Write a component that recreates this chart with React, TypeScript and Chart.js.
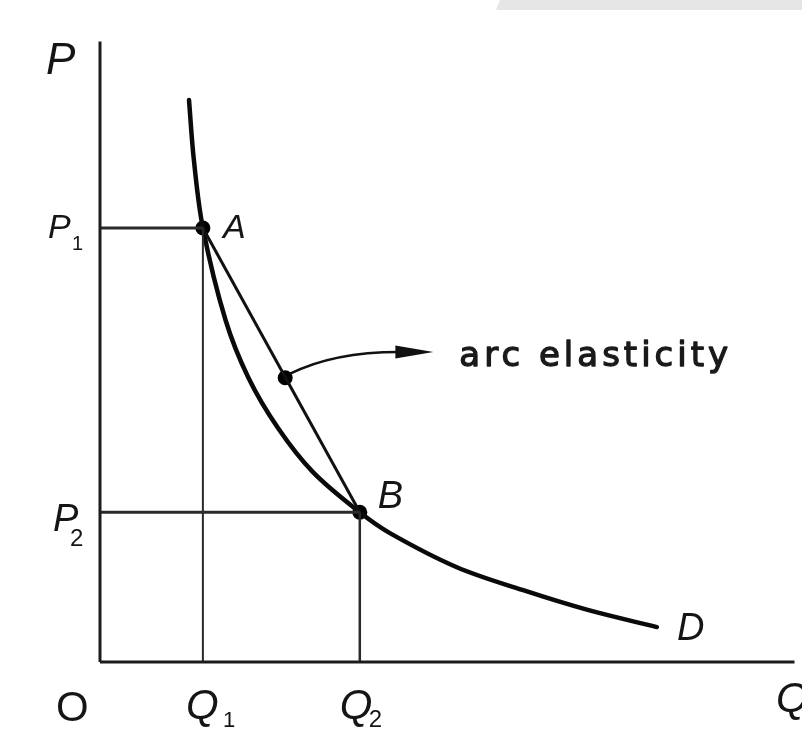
import React, { useEffect, useRef } from "react";
import { Chart, registerables } from "chart.js";

Chart.register(...registerables);

// Demand curve D, read as quantity / price pairs
const CURVE_Q = [3.46, 3.65, 4.0, 4.88, 5.77, 6.92, 8.27, 10.1, 11.27, 13.85, 16.42, 18.96, 21.65];
const CURVE_P = [25.9, 23.13, 20.0, 15.76, 13.1, 10.78, 8.76, 6.9, 5.94, 4.38, 3.32, 2.4, 1.61];

// Points A and B on the curve
const POINT_A = { q: 4.0, p: 20.0 };
const POINT_B = { q: 10.1, p: 6.9 };

// Point on chord AB that the arc-elasticity arrow starts from
const CHORD_MID = { q: 7.2, p: 13.1 };
// Tip of the arc-elasticity arrow
const ARROW_TIP = { q: 12.96, p: 14.29 };

// Axis extents
const Q_MIN = 0;
const Q_MAX = 27;
const P_MIN = 0;
const P_MAX = 30;
const P_AXIS_TOP = 28.6;

const INK = "#111111";
const GUIDE = "#2a2a2a";

const labelsPlugin = {
  id: "diagramLabels",
  beforeDraw(chart: any) {
    const { ctx } = chart;
    ctx.save();
    ctx.fillStyle = "#ffffff";
    ctx.fillRect(0, 0, chart.width, chart.height);
    // light band along the top right edge
    ctx.fillStyle = "#e6e6e6";
    ctx.beginPath();
    ctx.moveTo(500, 0);
    ctx.lineTo(chart.width, 0);
    ctx.lineTo(chart.width, 10);
    ctx.lineTo(496, 10);
    ctx.closePath();
    ctx.fill();
    ctx.restore();
  },
  afterDraw(chart: any) {
    const { ctx, scales } = chart;
    const xs = scales.x;
    const ys = scales.y;
    const px = (q: number) => xs.getPixelForValue(q);
    const py = (p: number) => ys.getPixelForValue(p);

    const x0 = px(0);
    const y0 = py(0);
    const ax = px(POINT_A.q);
    const ay = py(POINT_A.p);
    const bx = px(POINT_B.q);
    const by = py(POINT_B.p);
    const endQ = CURVE_Q[CURVE_Q.length - 1];
    const endP = CURVE_P[CURVE_P.length - 1];
    const dx = px(endQ);
    const dy = py(endP);

    ctx.save();
    ctx.fillStyle = "#151515";
    ctx.textBaseline = "alphabetic";
    ctx.textAlign = "left";

    const it = (size: number) => `italic ${size}px "Liberation Sans", Arial, sans-serif`;
    const up = (size: number) => `${size}px "Liberation Sans", Arial, sans-serif`;

    // axis names
    ctx.font = it(44);
    ctx.fillText("P", x0 - 54, py(P_AXIS_TOP) + 33);
    ctx.font = it(42);
    ctx.fillText("Q", 776, y0 + 50);
    ctx.font = up(42);
    ctx.fillText("O", x0 - 44, y0 + 59);

    // price levels
    ctx.font = it(34);
    ctx.fillText("P", x0 - 52, ay + 10);
    ctx.font = up(20);
    ctx.fillText("1", x0 - 28, ay + 22);
    ctx.font = it(38);
    ctx.fillText("P", x0 - 47, by + 19);
    ctx.font = up(24);
    ctx.fillText("2", x0 - 30, by + 34);

    // quantity levels
    ctx.font = it(42);
    ctx.fillText("Q", ax - 17, y0 + 57);
    ctx.fillText("Q", bx - 20, y0 + 57);
    ctx.font = up(22);
    ctx.fillText("1", ax + 20, y0 + 65);
    ctx.font = up(24);
    ctx.fillText("2", bx + 9, y0 + 65);

    // point names
    ctx.font = it(34);
    ctx.fillText("A", ax + 20, ay + 10);
    ctx.font = it(38);
    ctx.fillText("B", bx + 18, by - 4);
    ctx.fillText("D", dx + 20, dy + 13);

    // arrow from the chord to its caption
    const mx = px(CHORD_MID.q);
    const my = py(CHORD_MID.p);
    const tx = px(ARROW_TIP.q);
    const ty = py(ARROW_TIP.p);
    ctx.strokeStyle = INK;
    ctx.lineWidth = 2.5;
    ctx.beginPath();
    ctx.moveTo(mx + 5, my - 4);
    ctx.quadraticCurveTo(mx + 48, ty, tx - 34, ty);
    ctx.stroke();
    ctx.fillStyle = INK;
    ctx.beginPath();
    ctx.moveTo(tx, ty);
    ctx.lineTo(tx - 38, ty - 6.5);
    ctx.lineTo(tx - 38, ty + 6.5);
    ctx.closePath();
    ctx.fill();

    // caption, normal weight thickened by a thin outline
    ctx.fillStyle = "#1a1a1a";
    ctx.strokeStyle = "#1a1a1a";
    ctx.lineWidth = 1.3;
    ctx.lineJoin = "round";
    ctx.font = `34px "DejaVu Sans", sans-serif`;
    try {
      (ctx as any).letterSpacing = "4px";
    } catch (e) {
      /* older canvas */
    }
    ctx.fillText("arc elasticity", tx + 26, ty + 14);
    ctx.strokeText("arc elasticity", tx + 26, ty + 14);
    ctx.restore();
  },
};

export default function App() {
  const canvasRef = useRef<HTMLCanvasElement | null>(null);

  useEffect(() => {
    const canvas = canvasRef.current;
    if (!canvas) return;

    const curve = CURVE_Q.map((q, i) => ({ x: q, y: CURVE_P[i] }));
    const seg = (a: [number, number], b: [number, number]) => [
      { x: a[0], y: a[1] },
      { x: b[0], y: b[1] },
    ];
    const lineSet = (data: any[], width: number, color: string) => ({
      type: "line" as const,
      data,
      borderColor: color,
      borderWidth: width,
      pointRadius: 0,
      fill: false,
      clip: false as any,
      tension: 0,
      borderCapStyle: "butt" as const,
    });

    const chart = new Chart(canvas, {
      type: "scatter",
      data: {
        datasets: [
          // axes
          lineSet(seg([Q_MIN, P_MIN], [0, P_AXIS_TOP]), 3, "#1c1c1c"),
          lineSet(seg([Q_MIN, P_MIN], [Q_MAX, 0]), 3, "#1c1c1c"),
          // guides to the axes
          lineSet(seg([0, POINT_A.p], [POINT_A.q, POINT_A.p]), 3, GUIDE),
          lineSet(seg([POINT_A.q, 0], [POINT_A.q, POINT_A.p]), 2, GUIDE),
          lineSet(seg([0, POINT_B.p], [POINT_B.q, POINT_B.p]), 3, GUIDE),
          lineSet(seg([POINT_B.q, 0], [POINT_B.q, POINT_B.p]), 2.5, GUIDE),
          // chord AB
          lineSet(seg([POINT_A.q, POINT_A.p], [POINT_B.q, POINT_B.p]), 3, INK),
          // demand curve
          {
            ...lineSet(curve, 4.5, "#0a0a0a"),
            tension: 0.35,
            borderCapStyle: "round" as const,
          },
          // marked points
          {
            type: "scatter" as const,
            data: [
              { x: POINT_A.q, y: POINT_A.p },
              { x: POINT_B.q, y: POINT_B.p },
              { x: CHORD_MID.q, y: CHORD_MID.p },
            ],
            pointRadius: 7.5,
            pointBackgroundColor: "#000000",
            pointBorderWidth: 0,
            clip: false as any,
          },
        ] as any,
      },
      options: {
        responsive: false,
        maintainAspectRatio: false,
        animation: false,
        devicePixelRatio: 1,
        events: [],
        layout: { padding: { left: 100, right: 0, top: 11, bottom: 68 } },
        plugins: {
          legend: { display: false },
          tooltip: { enabled: false },
        },
        scales: {
          x: { type: "linear", display: false, min: Q_MIN, max: Q_MAX },
          y: { type: "linear", display: false, min: P_MIN, max: P_MAX },
        },
      },
      plugins: [labelsPlugin],
    });

    return () => chart.destroy();
  }, []);

  return (
    <div
      style={{
        position: "absolute",
        left: 0,
        top: 0,
        width: 802,
        height: 730,
        background: "#ffffff",
        overflow: "hidden",
      }}
    >
      <canvas ref={canvasRef} width={802} height={730} style={{ display: "block" }} />
    </div>
  );
}
